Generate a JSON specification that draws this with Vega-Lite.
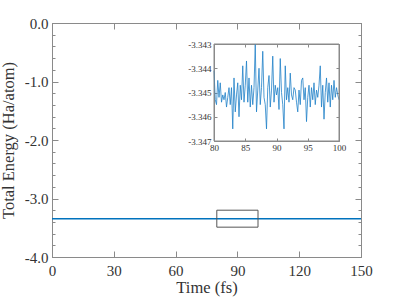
{
  "$schema": "https://vega.github.io/schema/vega-lite/v6.json",
  "width": 309,
  "height": 234,
  "autosize": "none",
  "padding": {"left": 52, "top": 23, "right": 38, "bottom": 42},
  "background": "white",
  "config": {
    "font": "Liberation Serif",
    "view": {"stroke": "#8a8a8a", "strokeWidth": 1},
    "axis": {
      "grid": false,
      "labelFlush": false,
      "labelOverlap": false,
      "domainColor": "#8a8a8a",
      "tickColor": "#8a8a8a",
      "labelColor": "#333333",
      "titleColor": "#333333",
      "labelFont": "Liberation Serif",
      "titleFont": "Liberation Serif",
      "titleFontWeight": "normal",
      "labelFontSize": 15,
      "titleFontSize": 16.5
    }
  },
  "datasets": {
    "main": [
      {"t": 0, "e": -3.3449}, {"t": 10, "e": -3.3451}, {"t": 20, "e": -3.345}, {"t": 30, "e": -3.3449},
      {"t": 40, "e": -3.3451}, {"t": 50, "e": -3.345}, {"t": 60, "e": -3.3449}, {"t": 70, "e": -3.3451},
      {"t": 80, "e": -3.3441}, {"t": 90, "e": -3.3451}, {"t": 100, "e": -3.3453}, {"t": 110, "e": -3.345},
      {"t": 120, "e": -3.3449}, {"t": 130, "e": -3.3451}, {"t": 140, "e": -3.345}, {"t": 150, "e": -3.345}
    ],
    "inset": [
      {"t": 80.0, "d": 9}, {"t": 80.2, "d": -3}, {"t": 80.4, "d": -5}, {"t": 80.6, "d": 5}, {"t": 80.8, "d": -2},
      {"t": 81.0, "d": 4}, {"t": 81.2, "d": -4}, {"t": 81.4, "d": -1}, {"t": 81.6, "d": -3}, {"t": 81.8, "d": 0},
      {"t": 82.0, "d": -6}, {"t": 82.2, "d": -2}, {"t": 82.4, "d": 2}, {"t": 82.6, "d": -5}, {"t": 82.8, "d": 2},
      {"t": 83.0, "d": -15}, {"t": 83.2, "d": 6}, {"t": 83.4, "d": -8}, {"t": 83.6, "d": -1}, {"t": 83.8, "d": 4},
      {"t": 84.0, "d": -10}, {"t": 84.2, "d": 3}, {"t": 84.4, "d": -3}, {"t": 84.6, "d": 11}, {"t": 84.8, "d": -4},
      {"t": 85.0, "d": 3}, {"t": 85.2, "d": 13}, {"t": 85.4, "d": -4}, {"t": 85.6, "d": 6}, {"t": 85.8, "d": -6},
      {"t": 86.0, "d": 3}, {"t": 86.2, "d": -5}, {"t": 86.4, "d": 2}, {"t": 86.6, "d": 20}, {"t": 86.8, "d": -8},
      {"t": 87.0, "d": 1}, {"t": 87.2, "d": 10}, {"t": 87.4, "d": -5}, {"t": 87.6, "d": 2}, {"t": 87.8, "d": 17},
      {"t": 88.0, "d": -2}, {"t": 88.2, "d": -5}, {"t": 88.4, "d": -15}, {"t": 88.6, "d": 2}, {"t": 88.8, "d": 7},
      {"t": 89.0, "d": -6}, {"t": 89.2, "d": 1}, {"t": 89.4, "d": 15}, {"t": 89.6, "d": -4}, {"t": 89.8, "d": 3},
      {"t": 90.0, "d": -1}, {"t": 90.2, "d": 2}, {"t": 90.4, "d": -7}, {"t": 90.6, "d": 14}, {"t": 90.8, "d": 0},
      {"t": 91.0, "d": -5}, {"t": 91.2, "d": -15}, {"t": 91.4, "d": 11}, {"t": 91.6, "d": -3}, {"t": 91.8, "d": 2},
      {"t": 92.0, "d": -4}, {"t": 92.2, "d": 8}, {"t": 92.4, "d": -1}, {"t": 92.6, "d": -3}, {"t": 92.8, "d": 2},
      {"t": 93.0, "d": 1}, {"t": 93.2, "d": -4}, {"t": 93.4, "d": -8}, {"t": 93.6, "d": 1}, {"t": 93.8, "d": -5},
      {"t": 94.0, "d": 5}, {"t": 94.2, "d": 6}, {"t": 94.4, "d": -3}, {"t": 94.6, "d": 2}, {"t": 94.8, "d": -12},
      {"t": 95.0, "d": -2}, {"t": 95.2, "d": 3}, {"t": 95.4, "d": -6}, {"t": 95.6, "d": 2}, {"t": 95.8, "d": -3},
      {"t": 96.0, "d": 4}, {"t": 96.2, "d": -5}, {"t": 96.4, "d": 1}, {"t": 96.6, "d": -2}, {"t": 96.8, "d": 3},
      {"t": 97.0, "d": 11}, {"t": 97.2, "d": -6}, {"t": 97.4, "d": 3}, {"t": 97.6, "d": -11}, {"t": 97.8, "d": 0},
      {"t": 98.0, "d": 6}, {"t": 98.2, "d": -4}, {"t": 98.4, "d": 4}, {"t": 98.6, "d": -6}, {"t": 98.8, "d": 3},
      {"t": 99.0, "d": -3}, {"t": 99.2, "d": 5}, {"t": 99.4, "d": -2}, {"t": 99.6, "d": 2}, {"t": 99.8, "d": -1},
      {"t": 100.0, "d": -3}
    ],
    "box": [{"x1": 80, "x2": 100, "y1": -3.49, "y2": -3.2}],
    "frame": [{"x1": 80, "x2": 100, "y1": -3.347, "y2": -3.343}]
  },
  "layer": [
    {
      "data": {"name": "main"},
      "mark": {"type": "line", "color": "#0072BD", "strokeWidth": 1.5, "clip": true},
      "encoding": {
        "x": {"field": "t", "type": "quantitative",
          "scale": {"domain": [0, 150], "nice": false, "zero": false},
          "axis": {"orient": "bottom", "values": [0, 30, 60, 90, 120, 150], "title": "Time (fs)",
            "tickSize": -6, "labelPadding": 12, "titlePadding": 1, "domain": true,
            "labelExpr": "replace(datum.label, '\u2212', '-')"}},
        "y": {"field": "e", "type": "quantitative",
          "scale": {"domain": [-4, 0], "nice": false, "zero": false},
          "axis": {"orient": "left", "values": [0, -1, -2, -3, -4], "format": ".1f", "title": "Total Energy (Ha/atom)",
            "tickSize": -6, "labelPadding": 10, "titlePadding": 8,
            "labelExpr": "replace(datum.label, '\u2212', '-')"}}
      }
    },
    {
      "data": {"name": "box"},
      "mark": {"type": "rect", "fill": null, "fillOpacity": 0, "stroke": "#555555", "strokeWidth": 1},
      "encoding": {
        "x": {"field": "x1", "type": "quantitative",
          "scale": {"domain": [0, 150], "nice": false, "zero": false},
          "axis": {"orient": "top", "values": [0, 30, 60, 90, 120, 150], "labels": false, "title": null, "tickSize": -6}},
        "x2": {"field": "x2"},
        "y": {"field": "y1", "type": "quantitative",
          "scale": {"domain": [-4, 0], "nice": false, "zero": false},
          "axis": {"orient": "right", "values": [0, -1, -2, -3, -4], "labels": false, "title": null, "tickSize": -6}},
        "y2": {"field": "y2"}
      }
    },
    {
      "data": {"name": "box"},
      "mark": {"type": "point", "opacity": 0},
      "encoding": {
        "x": {"field": "x1", "type": "quantitative",
          "scale": {"domain": [0, 150], "nice": false, "zero": false}, "axis": null},
        "y": {"field": "y1", "type": "quantitative",
          "scale": {"domain": [-4, 0], "nice": false, "zero": false},
          "axis": {"orient": "left", "values": [0, -0.2, -0.4, -0.6, -0.8, -1, -1.2, -1.4, -1.6, -1.8, -2, -2.2, -2.4, -2.6, -2.8, -3, -3.2, -3.4, -3.6, -3.8, -4],
            "labels": false, "title": null, "tickSize": -3, "domain": false}}
      }
    },
    {
      "data": {"name": "box"},
      "mark": {"type": "point", "opacity": 0},
      "encoding": {
        "x": {"field": "x1", "type": "quantitative",
          "scale": {"domain": [0, 150], "nice": false, "zero": false}, "axis": null},
        "y": {"field": "y1", "type": "quantitative",
          "scale": {"domain": [-4, 0], "nice": false, "zero": false},
          "axis": {"orient": "right", "values": [0, -0.2, -0.4, -0.6, -0.8, -1, -1.2, -1.4, -1.6, -1.8, -2, -2.2, -2.4, -2.6, -2.8, -3, -3.2, -3.4, -3.6, -3.8, -4],
            "labels": false, "title": null, "tickSize": -3, "domain": false}}
      }
    },
    {
      "data": {"name": "inset"},
      "transform": [{"calculate": "-3.345 + datum.d * 0.0001", "as": "e"}],
      "mark": {"type": "line", "color": "#1f80c8", "strokeWidth": 0.8},
      "encoding": {
        "x": {"field": "t", "type": "quantitative",
          "scale": {"domain": [80, 100], "range": [162, 287], "nice": false, "zero": false},
          "axis": {"orient": "bottom", "offset": -116, "values": [80, 85, 90, 95, 100], "title": null,
            "tickSize": -3, "labelPadding": 5, "labelFontSize": 9, "domainColor": "#8a8a8a"}},
        "y": {"field": "e", "type": "quantitative",
          "scale": {"domain": [-3.347, -3.343], "range": [118, 21], "nice": false, "zero": false},
          "axis": {"orient": "left", "offset": -162, "values": [-3.347, -3.346, -3.345, -3.344, -3.343], "format": ".3f", "title": null,
            "tickSize": -3, "labelPadding": 6, "labelFontSize": 9,
            "labelExpr": "replace(datum.label, '\u2212', '-')"}}
      }
    },
    {
      "data": {"name": "frame"},
      "mark": {"type": "rect", "fill": null, "fillOpacity": 0, "stroke": "#8a8a8a", "strokeWidth": 1},
      "encoding": {
        "x": {"field": "x1", "type": "quantitative",
          "scale": {"domain": [80, 100], "range": [162, 287], "nice": false, "zero": false},
          "axis": {"orient": "top", "offset": -21, "values": [80, 85, 90, 95, 100], "labels": false, "title": null, "tickSize": -3}},
        "x2": {"field": "x2"},
        "y": {"field": "y1", "type": "quantitative",
          "scale": {"domain": [-3.347, -3.343], "range": [118, 21], "nice": false, "zero": false},
          "axis": {"orient": "right", "offset": -22, "values": [-3.347, -3.346, -3.345, -3.344, -3.343], "labels": false, "title": null, "tickSize": -3}},
        "y2": {"field": "y2"}
      }
    }
  ],
  "resolve": {
    "scale": {"x": "independent", "y": "independent"},
    "axis": {"x": "independent", "y": "independent"}
  }
}
